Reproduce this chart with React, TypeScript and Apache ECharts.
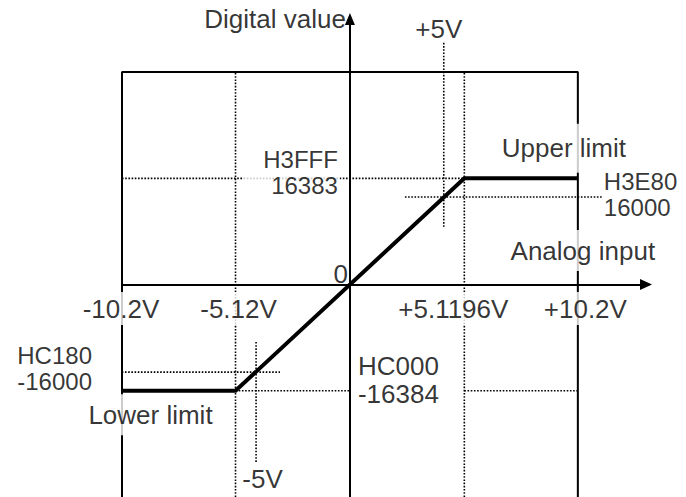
import React, { useEffect, useRef } from "react";
import * as echarts from "echarts";

// ---- data (diagram values) ----
const inputVolts = [-10.2, -5.12, 5.1196, 10.2];
const digitalValues = [-16384, -16384, 16383, 16383];
const voltTickValues = [-10.2, -5.12, 5.1196, 10.2];
const voltTickLabels = ["-10.2V", "-5.12V", "+5.1196V", "+10.2V"];
const fullScale = 32768; // frame bound
const guide5V = 4.2; // drawn position of the ±5V guides (diagram is not to scale)
const guideLimit = 13500; // drawn position of the ±16000 guides
const xRange = [-10.2, 13.25];
const yRange = [-32768, 40960];
const guide5VSpan = [8900, 37400];
const guideNeg5VSpan = [-8850, -27500];
const guideLimitSpanPos = [2.46, 11.27];
const guideLimitSpanNeg = [-11.5, -3.13];

const FONT = '"Liberation Sans", Arial, Helvetica, sans-serif';

function seg(pts: number[][], style: any, z: number) {
  return {
    type: "line",
    data: pts,
    symbol: "none",
    silent: true,
    clip: false,
    z,
    lineStyle: style,
    animation: false,
  };
}

export default function App() {
  const ref = useRef<HTMLDivElement>(null);
  useEffect(() => {
    document.body.style.margin = "0";
    if (!ref.current) return;
    const chart = echarts.init(ref.current, undefined, { renderer: "svg" });

    const solid = { color: "#000", width: 2, type: "solid" };
    const dotted = { color: "#000", width: 1.6, type: [1.6, 1.6] };
    const thick = { color: "#000", width: 4, type: "solid", cap: "butt", join: "miter" };

    const series: any[] = [];
    // frame
    series.push(
      seg(
        [
          [voltTickValues[0], -fullScale],
          [voltTickValues[0], fullScale],
          [voltTickValues[3], fullScale],
          [voltTickValues[3], -fullScale],
        ],
        solid,
        1
      )
    );
    // vertical guides
    series.push(seg([[voltTickValues[1], -fullScale], [voltTickValues[1], fullScale]], dotted, 1));
    series.push(seg([[voltTickValues[2], -fullScale], [voltTickValues[2], fullScale]], dotted, 1));
    series.push(seg([[guide5V, guide5VSpan[0]], [guide5V, guide5VSpan[1]]], dotted, 1));
    series.push(seg([[-guide5V, guideNeg5VSpan[0]], [-guide5V, guideNeg5VSpan[1]]], dotted, 1));
    // horizontal guides
    series.push(seg([[voltTickValues[0], digitalValues[3]], [voltTickValues[2], digitalValues[3]]], dotted, 1));
    series.push(seg([[guideLimitSpanPos[0], guideLimit], [guideLimitSpanPos[1], guideLimit]], dotted, 1));
    series.push(seg([[guideLimitSpanNeg[0], -guideLimit], [guideLimitSpanNeg[1], -guideLimit]], dotted, 1));
    series.push(seg([[voltTickValues[1], digitalValues[0]], [0, digitalValues[0]]], dotted, 1));
    series.push(seg([[voltTickValues[2], digitalValues[0]], [voltTickValues[3], digitalValues[0]]], dotted, 1));

    // labels
    const baseLabel = {
      show: true,
      position: "inside",
      color: "#000",
      fontFamily: FONT,
      fontSize: 26,
      lineHeight: 26,
      align: "center",
      verticalAlign: "middle",
    };
    const lbl = (value: number[], text: string, extra: any) => ({
      value,
      label: { ...baseLabel, formatter: text, ...extra },
    });
    const tickOffsets = [-1, 3, -11, 7.5];
    const labelData: any[] = voltTickValues.map((v, i) =>
      lbl([v, 0], voltTickLabels[i], {
        offset: [tickOffsets[i], 24],
        backgroundColor: "#fff",
        padding: [6, 3, 1, 3],
      })
    );
    labelData.push(
      lbl([0, yRange[1]], "Digital value", { align: "right", offset: [-4, -0.5] }),
      lbl([guide5V, guide5VSpan[1]], "+5V", { offset: [-5, -13] }),
      lbl([-guide5V, guideNeg5VSpan[1]], "-5V", { offset: [6.5, 16] }),
      lbl([0, 0], "0", { align: "right", offset: [-2, -10.5] }),
      lbl([0, digitalValues[3]], "H3FFF\n16383", {
        align: "right",
        fontSize: 24,
        lineHeight: 26,
        offset: [-10, -6],
        backgroundColor: "#fff",
        padding: [0, 2, 0, 20],
      }),
      lbl([voltTickValues[3], guideLimit], "H3E80\n16000", {
        align: "left",
        fontSize: 24,
        lineHeight: 26,
        offset: [26, -3],
      }),
      lbl([voltTickValues[0], -guideLimit], "HC180\n-16000", {
        align: "right",
        fontSize: 24,
        lineHeight: 26,
        offset: [-30, -4],
      }),
      lbl([0, digitalValues[0]], "HC000\n-16384", {
        align: "left",
        lineHeight: 28,
        offset: [8, -11],
      }),
      lbl([voltTickValues[3], digitalValues[3]], "Upper limit", {
        offset: [-14, -30],
        backgroundColor: "#fff",
        padding: [11, 4, 12, 4],
      }),
      lbl([voltTickValues[3], 0], "Analog input", {
        offset: [5, -34],
        backgroundColor: "#fff",
        padding: [4, 4, 11, 4],
      }),
      lbl([voltTickValues[0], digitalValues[0]], "Lower limit", {
        offset: [28.5, 24],
        backgroundColor: "#fff",
        padding: [4, 4, 11, 4],
      })
    );
    series.push({
      type: "scatter",
      symbolSize: 1,
      itemStyle: { color: "rgba(0,0,0,0)" },
      silent: true,
      z: 3,
      data: labelData,
    });

    // transfer characteristic
    series.push(
      seg(
        inputVolts.map((v, i) => [v, digitalValues[i]]),
        thick,
        4
      )
    );

    chart.setOption({
      animation: false,
      backgroundColor: "#fff",
      grid: { left: 122, right: 40, top: 19, bottom: 0, containLabel: false },
      xAxis: {
        type: "value",
        min: xRange[0],
        max: xRange[1],
        splitLine: { show: false },
        axisTick: { show: false },
        axisLabel: { show: false },
        axisLine: {
          show: true,
          onZero: true,
          symbol: ["none", "triangle"],
          symbolSize: [11, 12],
          lineStyle: { color: "#000", width: 2 },
        },
      },
      yAxis: {
        type: "value",
        min: yRange[0],
        max: yRange[1],
        splitLine: { show: false },
        axisTick: { show: false },
        axisLabel: { show: false },
        axisLine: {
          show: true,
          onZero: true,
          symbol: ["none", "triangle"],
          symbolSize: [10, 12],
          lineStyle: { color: "#000", width: 2 },
        },
      },
      series,
    });
    return () => chart.dispose();
  }, []);
  return <div ref={ref} style={{ width: 686, height: 497 }} />;
}
